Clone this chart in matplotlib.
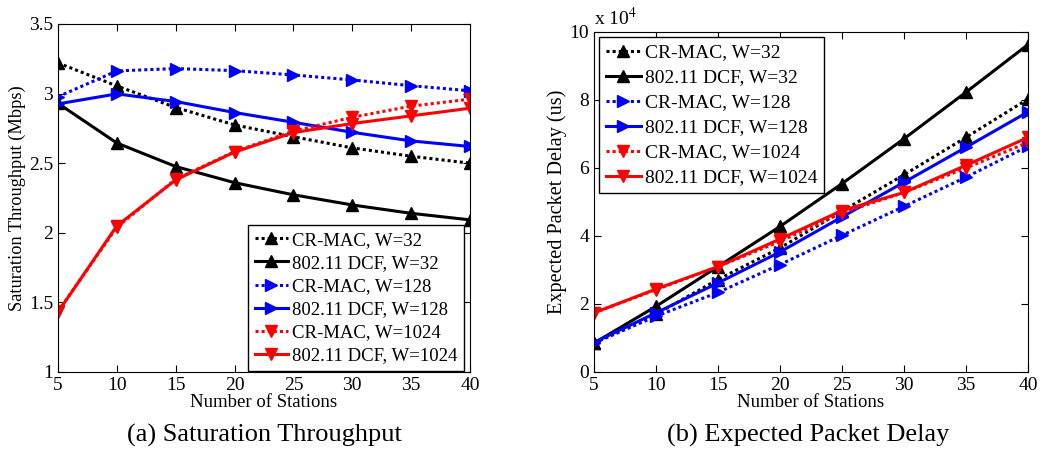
import numpy as np
import matplotlib
matplotlib.use("Agg")
import matplotlib.pyplot as plt

plt.rcParams['font.family'] = ['Liberation Serif', 'DejaVu Serif']
plt.rcParams['mathtext.fontset'] = 'stix'

# numero de estaciones
estaciones = [5, 10, 15, 20, 25, 30, 35, 40]

etiquetas = ["CR-MAC, W=32", "802.11 DCF, W=32",
             "CR-MAC, W=128", "802.11 DCF, W=128",
             "CR-MAC, W=1024", "802.11 DCF, W=1024"]

# (a) throughput de saturacion (Mbps)
thr_cr_32 = [3.22, 3.055, 2.90, 2.775, 2.69, 2.61, 2.55, 2.50]
thr_dcf_32 = [2.93, 2.645, 2.476, 2.36, 2.273, 2.20, 2.14, 2.093]
thr_cr_128 = [2.978, 3.163, 3.18, 3.165, 3.134, 3.098, 3.057, 3.02]
thr_dcf_128 = [2.926, 2.998, 2.943, 2.864, 2.794, 2.722, 2.66, 2.62]
thr_cr_1024 = [1.435, 2.04, 2.385, 2.584, 2.73, 2.83, 2.91, 2.96]
thr_dcf_1024 = [1.43, 2.05, 2.38, 2.58, 2.72, 2.785, 2.84, 2.895]

# (b) retardo esperado (x 10^4 us)
ret_cr_32 = [0.85, 1.70, 2.72, 3.65, 4.73, 5.80, 6.90, 8.03]
ret_dcf_32 = [0.85, 1.93, 3.10, 4.28, 5.54, 6.86, 8.23, 9.63]
ret_cr_128 = [0.85, 1.64, 2.34, 3.16, 4.02, 4.87, 5.73, 6.64]
ret_dcf_128 = [0.87, 1.74, 2.62, 3.53, 4.56, 5.58, 6.61, 7.65]
ret_cr_1024 = [1.74, 2.42, 3.10, 3.84, 4.68, 5.28, 6.00, 6.75]
ret_dcf_1024 = [1.74, 2.44, 3.10, 3.91, 4.75, 5.28, 6.08, 6.90]

punteado = (0, (1, 1))
estilos = [('k', punteado, '^'), ('k', '-', '^'),
           ('b', punteado, '>'), ('b', '-', '>'),
           ('r', punteado, 'v'), ('r', '-', 'v')]


def dibujar(ax, series):
    for datos, (color, ls, mk), etiqueta in zip(series, estilos, etiquetas):
        ax.plot(estaciones, datos, color=color, linestyle=ls, marker=mk,
                markersize=9, linewidth=2.2, label=etiqueta)
    ax.set_xlim(5, 40)
    ax.set_xticks(estaciones)
    ax.tick_params(direction='in', top=True, right=True, labelsize=14, length=5)
    ax.set_xlabel("Number of Stations", fontsize=13.5, labelpad=0)


def leyenda(ax, loc, ancla, tam, espacio):
    leg = ax.legend(loc=loc, bbox_to_anchor=ancla, fontsize=tam, handlelength=1.8,
                    handletextpad=0.2, borderaxespad=0, labelspacing=espacio,
                    borderpad=0.35, fancybox=False, edgecolor='k', framealpha=1)
    leg.get_frame().set_linewidth(1.0)


fig = plt.figure(figsize=(10.4, 4.5), dpi=100)
ax1 = fig.add_axes([58 / 1040, 1 - 372 / 450, 412 / 1040, 348 / 450])
ax2 = fig.add_axes([594 / 1040, 1 - 372 / 450, 434 / 1040, 340 / 450])

dibujar(ax1, [thr_cr_32, thr_dcf_32, thr_cr_128, thr_dcf_128, thr_cr_1024, thr_dcf_1024])
ax1.set_ylim(1, 3.5)
ax1.set_yticks([1, 1.5, 2, 2.5, 3, 3.5])
ax1.set_yticklabels(["1", "1.5", "2", "2.5", "3", "3.5"])
ax1.set_ylabel("Saturation Throughput (Mbps)", fontsize=13.2, labelpad=2)
leyenda(ax1, 'lower right', (1 - 6 / 412, 1 / 348), 13.5, 0.32)

dibujar(ax2, [ret_cr_32, ret_dcf_32, ret_cr_128, ret_dcf_128, ret_cr_1024, ret_dcf_1024])
ax2.set_ylim(0, 10)
ax2.set_yticks([0, 2, 4, 6, 8, 10])
ax2.set_ylabel("Expected Packet Delay (us)", fontsize=14.6, labelpad=2)
ax2.text(0.0, 1.01, "x 10$^{4}$", transform=ax2.transAxes, fontsize=14,
         ha='left', va='bottom')
leyenda(ax2, 'upper left', (5 / 434, 1 - 5 / 340), 14, 0.38)

fig.text(264 / 1040, 1 - 435 / 450, "(a) Saturation Throughput", fontsize=19,
         ha='center', va='center')
fig.text(808 / 1040, 1 - 435 / 450, "(b) Expected Packet Delay", fontsize=19,
         ha='center', va='center')

fig.savefig("out.png", dpi=100)
